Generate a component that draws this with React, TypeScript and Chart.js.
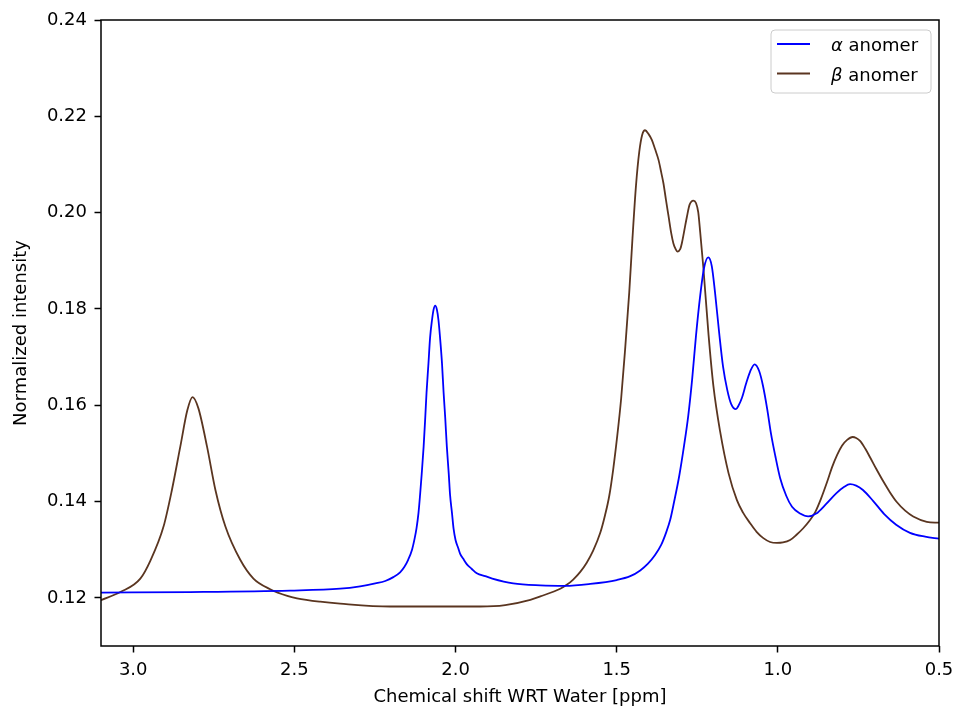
import React, { useEffect, useRef } from "react";
import { Chart, registerables } from "chart.js";

Chart.register(...registerables);

// ---- data ----
const ALPHA_X = [
  3.100, 2.823, 2.513, 2.358, 2.296, 2.249, 2.218, 2.193, 2.172, 2.159,
  2.147, 2.135, 2.127, 2.121, 2.115, 2.110, 2.105, 2.099, 2.094, 2.090,
  2.084, 2.079, 2.073, 2.068, 2.063, 2.058, 2.053, 2.048, 2.042, 2.037,
  2.032, 2.027, 2.021, 2.017, 2.011, 2.006, 2.000, 1.992, 1.986, 1.976,
  1.964, 1.951, 1.934, 1.908, 1.886, 1.821, 1.737, 1.660, 1.582, 1.500,
  1.458, 1.427, 1.403, 1.381, 1.362, 1.347, 1.334, 1.322, 1.306, 1.291,
  1.278, 1.266, 1.254, 1.241, 1.229, 1.216, 1.205, 1.195, 1.182, 1.170,
  1.157, 1.145, 1.130, 1.123, 1.111, 1.099, 1.086, 1.072, 1.058, 1.046,
  1.033, 1.021, 1.008, 0.993, 0.974, 0.956, 0.931, 0.906, 0.881, 0.850,
  0.819, 0.795, 0.776, 0.757, 0.736, 0.704, 0.670, 0.633, 0.590, 0.543,
  0.500,
];
const ALPHA_Y = [
  0.1211, 0.1212, 0.1215, 0.1219, 0.1224, 0.1230, 0.1235, 0.1243, 0.1253, 0.1264,
  0.1279, 0.1300, 0.1323, 0.1345, 0.1376, 0.1414, 0.1457, 0.1514, 0.1574, 0.1626,
  0.1687, 0.1740, 0.1777, 0.1799, 0.1807, 0.1799, 0.1777, 0.1740, 0.1687, 0.1626,
  0.1574, 0.1514, 0.1457, 0.1414, 0.1376, 0.1343, 0.1320, 0.1304, 0.1292, 0.1281,
  0.1269, 0.1261, 0.1251, 0.1245, 0.1240, 0.1230, 0.1226, 0.1225, 0.1229, 0.1237,
  0.1245, 0.1257, 0.1271, 0.1289, 0.1310, 0.1335, 0.1362, 0.1399, 0.1453, 0.1516,
  0.1578, 0.1653, 0.1744, 0.1827, 0.1885, 0.1907, 0.1889, 0.1835, 0.1750, 0.1680,
  0.1632, 0.1603, 0.1592, 0.1598, 0.1616, 0.1644, 0.1670, 0.1685, 0.1671, 0.1640,
  0.1592, 0.1540, 0.1495, 0.1449, 0.1412, 0.1389, 0.1375, 0.1369, 0.1375, 0.1395,
  0.1417, 0.1430, 0.1436, 0.1433, 0.1424, 0.1401, 0.1374, 0.1352, 0.1335, 0.1327,
  0.1323,
];

const BETA_X = [
  3.100, 3.040, 2.978, 2.947, 2.906, 2.880, 2.854, 2.832, 2.816, 2.798,
  2.771, 2.745, 2.714, 2.668, 2.627, 2.575, 2.522, 2.492, 2.420, 2.358,
  2.203, 1.923, 1.846, 1.768, 1.737, 1.675, 1.655, 1.635, 1.613, 1.593,
  1.573, 1.551, 1.536, 1.523, 1.511, 1.499, 1.486, 1.474, 1.461, 1.451,
  1.440, 1.430, 1.421, 1.412, 1.401, 1.391, 1.381, 1.370, 1.362, 1.355,
  1.347, 1.339, 1.331, 1.324, 1.317, 1.312, 1.303, 1.298, 1.291, 1.282,
  1.274, 1.262, 1.254, 1.247, 1.241, 1.231, 1.215, 1.200, 1.179, 1.153,
  1.127, 1.108, 1.086, 1.066, 1.045, 1.024, 1.003, 0.984, 0.962, 0.942,
  0.922, 0.903, 0.884, 0.866, 0.847, 0.832, 0.816, 0.801, 0.785, 0.768,
  0.757, 0.745, 0.729, 0.714, 0.694, 0.673, 0.652, 0.631, 0.605, 0.580,
  0.538, 0.500,
];
const BETA_Y = [
  0.1195, 0.1212, 0.1240, 0.1277, 0.1348, 0.1424, 0.1514, 0.1590, 0.1617, 0.1594,
  0.1514, 0.1424, 0.1348, 0.1279, 0.1240, 0.1218, 0.1204, 0.1199, 0.1192, 0.1188,
  0.1182, 0.1182, 0.1185, 0.1196, 0.1203, 0.1219, 0.1227, 0.1238, 0.1254, 0.1273,
  0.1298, 0.1335, 0.1372, 0.1412, 0.1466, 0.1532, 0.1615, 0.1715, 0.1835, 0.1947,
  0.2057, 0.2126, 0.2161, 0.2171, 0.2163, 0.2151, 0.2132, 0.2109, 0.2084, 0.2061,
  0.2026, 0.1992, 0.1958, 0.1936, 0.1924, 0.1919, 0.1924, 0.1936, 0.1960, 0.1992,
  0.2016, 0.2025, 0.2020, 0.2001, 0.1960, 0.1885, 0.1746, 0.1640, 0.1545, 0.1459,
  0.1403, 0.1377, 0.1355, 0.1337, 0.1324, 0.1316, 0.1314, 0.1315, 0.1320, 0.1331,
  0.1344, 0.1359, 0.1378, 0.1406, 0.1441, 0.1471, 0.1497, 0.1516, 0.1528, 0.1534,
  0.1532, 0.1526, 0.1510, 0.1492, 0.1467, 0.1442, 0.1419, 0.1399, 0.1381, 0.1369,
  0.1358, 0.1356,
];

const X_TICKS = [3.0, 2.5, 2.0, 1.5, 1.0, 0.5];
const Y_TICKS = [0.12, 0.14, 0.16, 0.18, 0.2, 0.22, 0.24];
const X_RANGE = [0.5, 3.1];
const Y_RANGE = [0.11, 0.24];

const SERIES_GREEK = ["α", "β"];
const SERIES_NAME = [" anomer", " anomer"];
const SERIES_COLORS = ["#0000ff", "#5a3520"];
const X_TITLE = "Chemical shift WRT Water [ppm]";
const Y_TITLE = "Normalized intensity";

const FAMILY = "'DejaVu Sans', sans-serif";
const FONT_SIZE = 18;

export default function App() {
  const ref = useRef<HTMLCanvasElement | null>(null);

  useEffect(() => {
    const canvas = ref.current;
    if (!canvas) return;

    const framePlugin = {
      id: "mplFrameLegend",
      afterDraw(chart: any) {
        const ctx = chart.ctx as CanvasRenderingContext2D;
        const ca = chart.chartArea;
        ctx.save();
        // spines
        ctx.strokeStyle = "#000";
        ctx.lineWidth = 1.5;
        ctx.strokeRect(ca.left, ca.top, ca.right - ca.left, ca.bottom - ca.top);

        // legend
        const bw = 160;
        const bh = 63;
        const bx = ca.right - 8 - bw;
        const by = ca.top + 10;
        const r = 4;
        ctx.beginPath();
        ctx.moveTo(bx + r, by);
        ctx.lineTo(bx + bw - r, by);
        ctx.arcTo(bx + bw, by, bx + bw, by + r, r);
        ctx.lineTo(bx + bw, by + bh - r);
        ctx.arcTo(bx + bw, by + bh, bx + bw - r, by + bh, r);
        ctx.lineTo(bx + r, by + bh);
        ctx.arcTo(bx, by + bh, bx, by + bh - r, r);
        ctx.lineTo(bx, by + r);
        ctx.arcTo(bx, by, bx + r, by, r);
        ctx.closePath();
        ctx.fillStyle = "rgba(255,255,255,0.8)";
        ctx.fill();
        ctx.strokeStyle = "#cccccc";
        ctx.lineWidth = 1;
        ctx.stroke();

        chart.data.datasets.forEach((ds: any, i: number) => {
          const ly = by + 14 + i * 29.5;
          ctx.strokeStyle = ds.borderColor;
          ctx.lineWidth = 1.8;
          ctx.beginPath();
          ctx.moveTo(bx + 6, ly);
          ctx.lineTo(bx + 39, ly);
          ctx.stroke();
          ctx.fillStyle = "#000";
          ctx.textBaseline = "alphabetic";
          ctx.textAlign = "left";
          const tx = bx + 60;
          const ty = ly + 7;
          ctx.font = `italic ${FONT_SIZE}px ${FAMILY}`;
          ctx.fillText(SERIES_GREEK[i], tx, ty);
          const w = ctx.measureText(SERIES_GREEK[i]).width;
          ctx.font = `${FONT_SIZE}px ${FAMILY}`;
          ctx.fillText(SERIES_NAME[i], tx + w, ty);
        });
        ctx.restore();
      },
    };

    const tickFont = { family: FAMILY, size: FONT_SIZE };
    const gridOpts = {
      display: true,
      drawOnChartArea: false,
      drawTicks: true,
      tickLength: 6.5,
      tickWidth: 1.5,
      tickColor: "#000",
    };

    const chart = new Chart(canvas, {
      type: "line",
      data: {
        datasets: [
          {
            label: SERIES_GREEK[0] + SERIES_NAME[0],
            data: ALPHA_X.map((x, i) => ({ x, y: ALPHA_Y[i] })),
            borderColor: SERIES_COLORS[0],
            backgroundColor: SERIES_COLORS[0],
            fill: false,
          },
          {
            label: SERIES_GREEK[1] + SERIES_NAME[1],
            data: BETA_X.map((x, i) => ({ x, y: BETA_Y[i] })),
            borderColor: SERIES_COLORS[1],
            backgroundColor: SERIES_COLORS[1],
            fill: false,
          },
        ],
      },
      options: {
        responsive: false,
        animation: false,
        devicePixelRatio: 1,
        layout: { padding: { left: 0, top: 20, right: 19, bottom: 0 } },
        elements: {
          point: { radius: 0, hoverRadius: 0 },
          line: { borderWidth: 1.8, cubicInterpolationMode: "monotone", borderJoinStyle: "round" },
        },
        plugins: {
          legend: { display: false },
          tooltip: { enabled: false },
        },
        scales: {
          x: {
            type: "linear",
            reverse: true,
            min: X_RANGE[0],
            max: X_RANGE[1],
            afterFit: (s: any) => {
              s.height = 65;
              s.paddingLeft = 0;
              s.paddingRight = 0;
            },
            afterBuildTicks: (s: any) => {
              s.ticks = X_TICKS.map((v) => ({ value: v }));
            },
            ticks: {
              font: tickFont,
              color: "#000",
              padding: 7.5,
              maxRotation: 0,
              autoSkip: false,
              callback: (v: any) => Number(v).toFixed(1),
            },
            grid: gridOpts,
            border: { display: false },
            title: {
              display: true,
              text: X_TITLE,
              color: "#000",
              font: tickFont,
              padding: { top: 0, bottom: 3 },
            },
          },
          y: {
            type: "linear",
            min: Y_RANGE[0],
            max: Y_RANGE[1],
            afterFit: (s: any) => {
              s.width = 101;
              s.paddingTop = 0;
              s.paddingBottom = 0;
            },
            afterBuildTicks: (s: any) => {
              s.ticks = Y_TICKS.map((v) => ({ value: v }));
            },
            ticks: {
              font: tickFont,
              color: "#000",
              padding: 7.5,
              autoSkip: false,
              callback: (v: any) => Number(v).toFixed(2),
            },
            grid: gridOpts,
            border: { display: false },
            title: {
              display: true,
              text: Y_TITLE,
              color: "#000",
              font: tickFont,
              padding: { top: 11, bottom: 0 },
            },
          },
        },
      },
      plugins: [framePlugin],
    } as any);

    return () => chart.destroy();
  }, []);

  return (
    <div style={{ position: "absolute", left: 0, top: 0, width: 958, height: 711, background: "#fff" }}>
      <canvas ref={ref} width={958} height={711} style={{ display: "block" }} />
    </div>
  );
}
